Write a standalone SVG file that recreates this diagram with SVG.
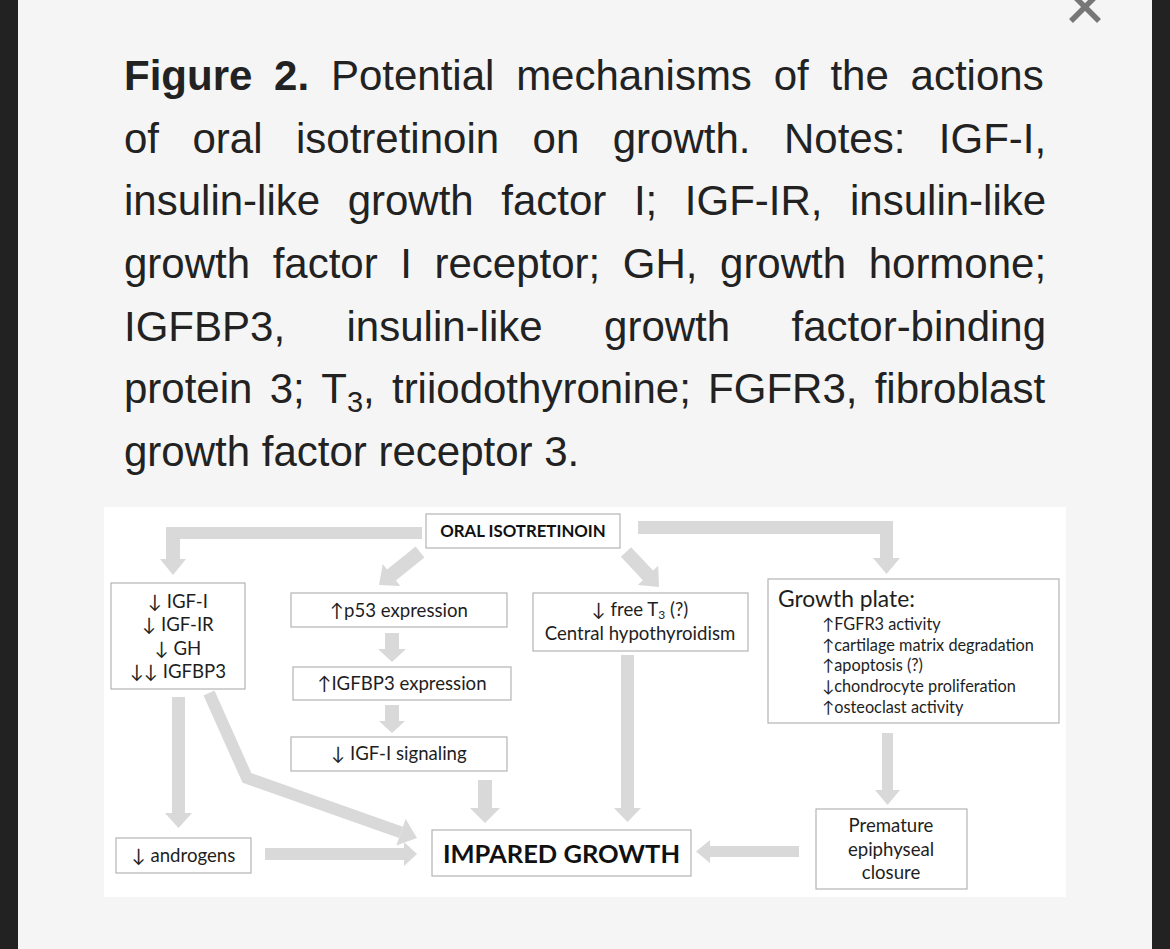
<svg xmlns="http://www.w3.org/2000/svg" width="1170" height="949" viewBox="0 0 1170 949">
<style>
.cap{font-family:"Liberation Sans",Arial,sans-serif;font-size:42px;fill:#222}
.bx{fill:#fff;stroke:#b4b4b4;stroke-width:1.2}
.t{font-family:Lato,"Open Sans",sans-serif;font-size:18.6px;fill:#1e1e1e;text-anchor:middle}
.ts{font-family:Lato,"Open Sans",sans-serif;font-size:16.3px;fill:#1e1e1e}
.gp{font-family:Lato,"Open Sans",sans-serif;font-size:22.8px;fill:#1e1e1e}
.ob{font-family:Lato,"Open Sans",sans-serif;font-size:16.8px;font-weight:bold;fill:#111;text-anchor:middle}
.ib{font-family:Lato,"Open Sans",sans-serif;font-size:25.5px;font-weight:bold;fill:#111;text-anchor:middle}
.arr{fill:#d9d9d9}
.arrl{fill:none;stroke:#d9d9d9;stroke-width:12;stroke-linejoin:miter}
</style>
<rect width="1170" height="949" fill="#f5f5f5"/>
<rect x="0" y="0" width="18" height="949" fill="#222"/>
<rect x="1152" y="0" width="18" height="949" fill="#222"/>
<g stroke="#777" stroke-width="5.5"><line x1="1071" y1="21" x2="1099" y2="-7"/><line x1="1071" y1="-7" x2="1099" y2="21"/></g>

<g id="caption">
<text class="cap" x="124" y="90" word-spacing="10.1"><tspan font-weight="bold">Figure 2.</tspan> Potential mechanisms of the actions</text>
<text class="cap" x="124" y="152.7" word-spacing="21.8">of oral isotretinoin on growth. Notes: IGF-I,</text>
<text class="cap" x="124" y="215.3" word-spacing="15.9">insulin-like growth factor I; IGF-IR, insulin-like</text>
<text class="cap" x="124" y="278" word-spacing="10.9">growth factor I receptor; GH, growth hormone;</text>
<text class="cap" x="124" y="340.7" word-spacing="49.8">IGFBP3, insulin-like growth factor-binding</text>
<text class="cap" x="124" y="403.3" word-spacing="5.6">protein 3; T<tspan font-size="29" dy="9">3</tspan><tspan dy="-9">, triiodothyronine; FGFR3, fibroblast</tspan></text>
<text class="cap" x="124" y="466">growth factor receptor 3.</text>
</g>

<rect x="104" y="507" width="962" height="390" fill="#fff"/>

<g id="connectors">
<polygon class="arr" points="422,527 166,527 166,559 160,559 173,575 186,559 180,559 180,539 422,539"/>
<polygon class="arr" points="638,521 893,521 893,558 900,558 886.5,574 873,558 880,558 880,534 638,534"/>
<polygon class="arr" points="424.4,557.5 395.9,580.5 400.3,585.9 379,585 382.7,564.1 387.1,569.5 415.6,546.5"/>
<polygon class="arr" points="631.1,547.2 653.1,570.6 658.2,565.8 659,587 637.8,585 642.9,580.2 620.9,556.8"/>
<polygon class="arr" points="385,633 399,633 399,649 406,649 392,662 378,649 385,649"/>
<polygon class="arr" points="385,705 399,705 399,721 405,721 392,733 379,721 385,721"/>
<polygon class="arr" points="478,780 492,780 492,808 500,808 485,823 470,808 478,808"/>
<polygon class="arr" points="621,655 634,655 634,808 641,808 627.5,822 614,808 621,808"/>
<polygon class="arr" points="172,697 185,697 185,813 192,813 178.5,828 165,813 172,813"/>
<polyline class="arrl" points="209,693 247,778 401,832.3"/>
<polygon class="arr" points="405.7,819.1 417,838 396.3,845.5"/>
<polygon class="arr" points="265,848 404,848 404,842 417,854 404,866 404,860 265,860"/>
<polygon class="arr" points="799,846 710,846 710,840 696,851.5 710,863 710,857 799,857"/>
<polygon class="arr" points="882,733 893,733 893,790 900,790 887.5,805 875,790 882,790"/>
</g>

<g id="oral">
<rect class="bx" x="426" y="514" width="194" height="34"/>
<text class="ob" x="523" y="537">ORAL ISOTRETINOIN</text>
</g>
<g id="hormones">
<rect class="bx" x="111" y="583" width="134" height="106"/>
<text class="t" x="178" y="608">↓ IGF-I</text>
<text class="t" x="178" y="631">↓ IGF-IR</text>
<text class="t" x="178" y="655">↓ GH</text>
<text class="t" x="178" y="678">↓↓ IGFBP3</text>
</g>
<g id="p53">
<rect class="bx" x="291" y="593" width="216" height="34"/>
<text class="t" x="399" y="617">↑p53 expression</text>
</g>
<g id="igfbp3">
<rect class="bx" x="293" y="667" width="218" height="33"/>
<text class="t" x="402" y="690">↑IGFBP3 expression</text>
</g>
<g id="igfsignal">
<rect class="bx" x="291" y="737" width="216" height="34"/>
<text class="t" x="399" y="760">↓ IGF-I signaling</text>
</g>
<g id="thyroid">
<rect class="bx" x="533" y="593" width="215" height="58"/>
<text class="t" x="640" y="616">↓ free T<tspan font-size="12" dy="3">3</tspan><tspan dy="-3"> (?)</tspan></text>
<text class="t" x="640" y="640">Central hypothyroidism</text>
</g>
<g id="growthplate">
<rect class="bx" x="768" y="579" width="291" height="144"/>
<text class="gp" x="778" y="607">Growth plate:</text>
<text class="ts" x="822" y="630">↑FGFR3 activity</text>
<text class="ts" x="822" y="651">↑cartilage matrix degradation</text>
<text class="ts" x="822" y="671">↑apoptosis (?)</text>
<text class="ts" x="822" y="692">↓chondrocyte proliferation</text>
<text class="ts" x="822" y="713">↑osteoclast activity</text>
</g>
<g id="androgens">
<rect class="bx" x="116" y="838" width="135" height="35"/>
<text class="t" x="183.5" y="862">↓ androgens</text>
</g>
<g id="impaired">
<rect class="bx" x="432" y="830" width="259" height="46"/>
<text class="ib" x="561.5" y="863">IMPARED GROWTH</text>
</g>
<g id="premature">
<rect class="bx" x="816" y="809" width="151" height="80"/>
<text class="t" x="891" y="832">Premature</text>
<text class="t" x="891" y="856">epiphyseal</text>
<text class="t" x="891" y="879">closure</text>
</g>
</svg>
